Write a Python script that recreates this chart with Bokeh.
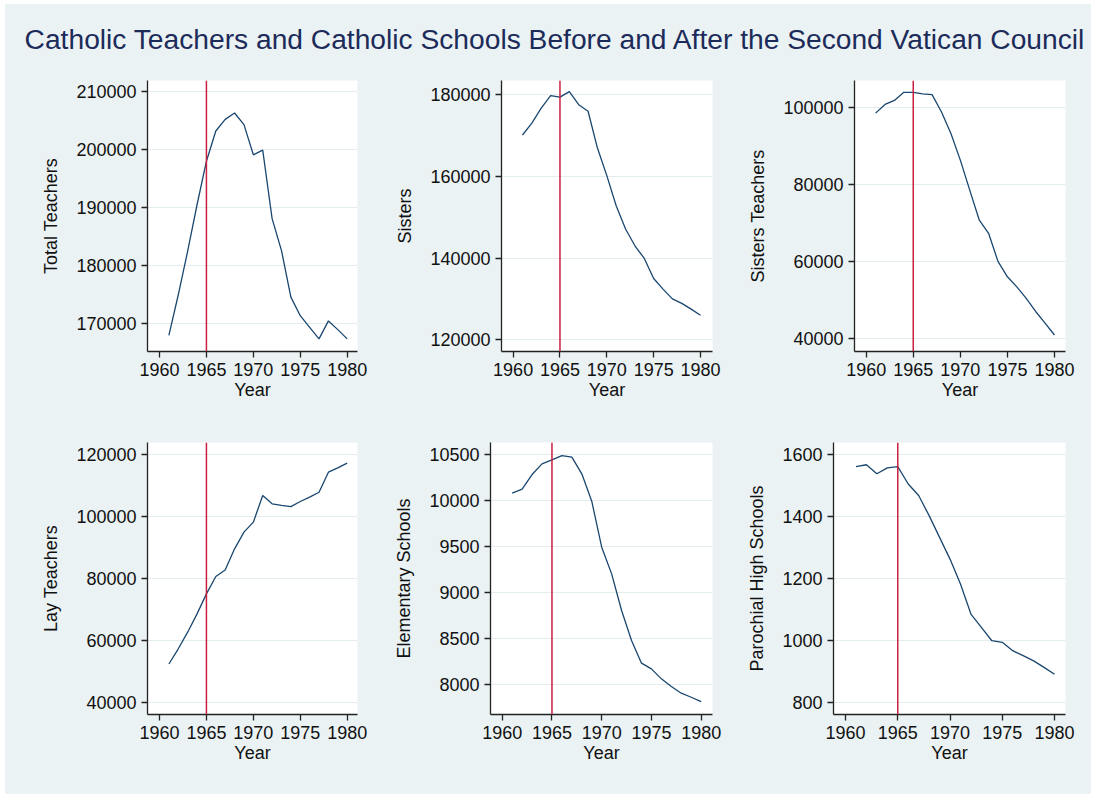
from bokeh.plotting import figure
from bokeh.layouts import column, row
from bokeh.models import Range1d, FixedTicker, Span, NumeralTickFormatter
from bokeh.embed import file_html
from bokeh.resources import INLINE

# ---------------- data ----------------
title_text = "Catholic Teachers and Catholic Schools Before and After the Second Vatican Council"
years = [1961, 1962, 1963, 1964, 1965, 1966, 1967, 1968, 1969, 1970,
         1971, 1972, 1973, 1974, 1975, 1976, 1977, 1978, 1979, 1980]
total_teachers = [168000, 175000, 182500, 190500, 198000, 203200, 205200, 206300, 204300, 199100,
                  199900, 188100, 182600, 174600, 171400, 169400, 167400, 170500, 169000, 167400]
sisters = [170100, 173000, 176650, 179750, 179350, 180700, 177500, 175900, 166900, 160150,
           152800, 147100, 143000, 139900, 135000, 132400, 130000, 128900, 127500, 126000]
sisters_teachers = [98600, 100860, 101900, 104000, 104000, 103600, 103400, 98900, 93300, 86400,
                    78600, 70900, 67400, 60100, 56100, 53500, 50500, 47100, 44100, 41000]
lay_teachers = [52500, 57400, 62750, 68650, 75100, 80700, 82800, 89600, 95000, 98200,
                106800, 104100, 103600, 103200, 104850, 106250, 107850, 114300, 115700, 117200]
elementary_schools = [10079, 10123, 10282, 10398, 10442, 10489, 10471, 10290, 9992, 9491,
                      9201, 8802, 8475, 8229, 8167, 8058, 7975, 7902, 7858, 7811]
parochial_high_schools = [1561, 1567, 1538, 1557, 1561, 1505, 1468, 1403, 1333, 1263,
                          1183, 1086, 1043, 1000, 995, 968, 952, 935, 914, 892]
intervention_year = 1965
x_ticks = [1960, 1965, 1970, 1975, 1980]
ticks_total = [170000, 180000, 190000, 200000, 210000]
ticks_sisters = [120000, 140000, 160000, 180000]
ticks_sisters_teachers = [40000, 60000, 80000, 100000]
ticks_lay = [40000, 60000, 80000, 100000, 120000]
ticks_elem = [8000, 8500, 9000, 9500, 10000, 10500]
ticks_high = [800, 1000, 1200, 1400, 1600]

# ---------------- style ----------------
BG = "#EAF2F3"
GRID = "#E3ECEF"
LINE = "#1A476F"
RED = "#C8203F"
FONT = "Liberation Sans"
FS = "18px"


def make_panel(width, height, left, right, top, bottom, xr, yr, yvals, yticks, ylabel):
    p = figure(width=width, height=height, x_range=Range1d(*xr), y_range=Range1d(*yr),
               output_backend="svg", toolbar_location=None, tools="",
               min_border_left=left, min_border_right=right,
               min_border_top=top, min_border_bottom=bottom,
               background_fill_color="white", border_fill_color=BG,
               outline_line_color=None)
    p.title.visible = False
    p.line(years, yvals, line_color=LINE, line_width=1.3)
    p.add_layout(Span(location=intervention_year, dimension="height",
                      line_color=RED, line_width=1.5))
    p.xgrid.visible = False
    p.ygrid.ticker = FixedTicker(ticks=yticks)
    p.ygrid.grid_line_color = GRID
    p.ygrid.grid_line_width = 1.2
    for ax in (p.xaxis[0], p.yaxis[0]):
        ax.axis_line_color = "#222222"
        ax.axis_line_width = 1.3
        ax.major_tick_line_color = "#222222"
        ax.major_tick_line_width = 1.3
        ax.major_tick_out = 6
        ax.major_tick_in = 0
        ax.minor_tick_line_color = None
        ax.major_label_text_font = FONT
        ax.major_label_text_font_size = FS
        ax.major_label_text_color = "#111111"
        ax.axis_label_text_font = FONT
        ax.axis_label_text_font_size = FS
        ax.axis_label_text_font_style = "normal"
        ax.axis_label_text_color = "#111111"
        ax.major_label_standoff = 5
    p.xaxis.ticker = FixedTicker(ticks=x_ticks)
    p.xaxis.axis_label = "Year"
    p.xaxis.axis_label_standoff = 1
    p.yaxis.ticker = FixedTicker(ticks=yticks)
    p.yaxis.formatter = NumeralTickFormatter(format="0")
    p.yaxis.axis_label = ylabel
    p.yaxis.axis_label_standoff = 12
    p.yaxis.major_label_orientation = "horizontal"
    return p


# title strip (figure title, no frame content)
t = figure(width=1086, height=58, x_range=Range1d(0, 1), y_range=Range1d(0, 1),
           title=title_text, output_backend="svg", toolbar_location=None, tools="",
           min_border_left=14, min_border_right=0, min_border_top=50, min_border_bottom=0,
           x_axis_location=None, y_axis_location=None,
           background_fill_color=BG, border_fill_color=BG, outline_line_color=None)
t.xgrid.visible = False
t.ygrid.visible = False
t.title.align = "center"
t.title.text_font = FONT
t.title.text_font_size = "28.2px"
t.title.text_font_style = "normal"
t.title.text_color = "#1C2B5A"
t.title.standoff = 0

p1 = make_panel(380, 362, 142, 28, 18, 73, (1958.72, 1981.10), (165231, 211894),
                total_teachers, ticks_total, "Total Teachers")
p2 = make_panel(355, 362, 116, 28, 18, 73, (1958.76, 1981.28), (117139, 183424),
                sisters, ticks_sisters, "Sisters")
p3 = make_panel(351, 362, 114, 26, 18, 73, (1958.76, 1981.17), (36711, 107070),
                sisters_teachers, ticks_sisters_teachers, "Sisters Teachers")
p4 = make_panel(380, 370, 142, 28, 18, 80, (1958.72, 1981.10), (36231, 123866),
                lay_teachers, ticks_lay, "Lay Teachers")
p5 = make_panel(355, 370, 105, 28, 18, 80, (1958.82, 1981.14), (7670, 10631),
                elementary_schools, ticks_elem, "Elementary Schools")
p6 = make_panel(351, 370, 93, 26, 18, 80, (1958.85, 1981.05), (762.3, 1638.7),
                parochial_high_schools, ticks_high, "Parochial High Schools")

layout = column(t, row(p1, p2, p3, spacing=0, styles={"background-color": BG}),
                row(p4, p5, p6, spacing=0, styles={"background-color": BG}),
                spacing=0, margin=(4, 0, 0, 5), styles={"background-color": BG})
open("out.html", "w").write(file_html(layout, INLINE))
